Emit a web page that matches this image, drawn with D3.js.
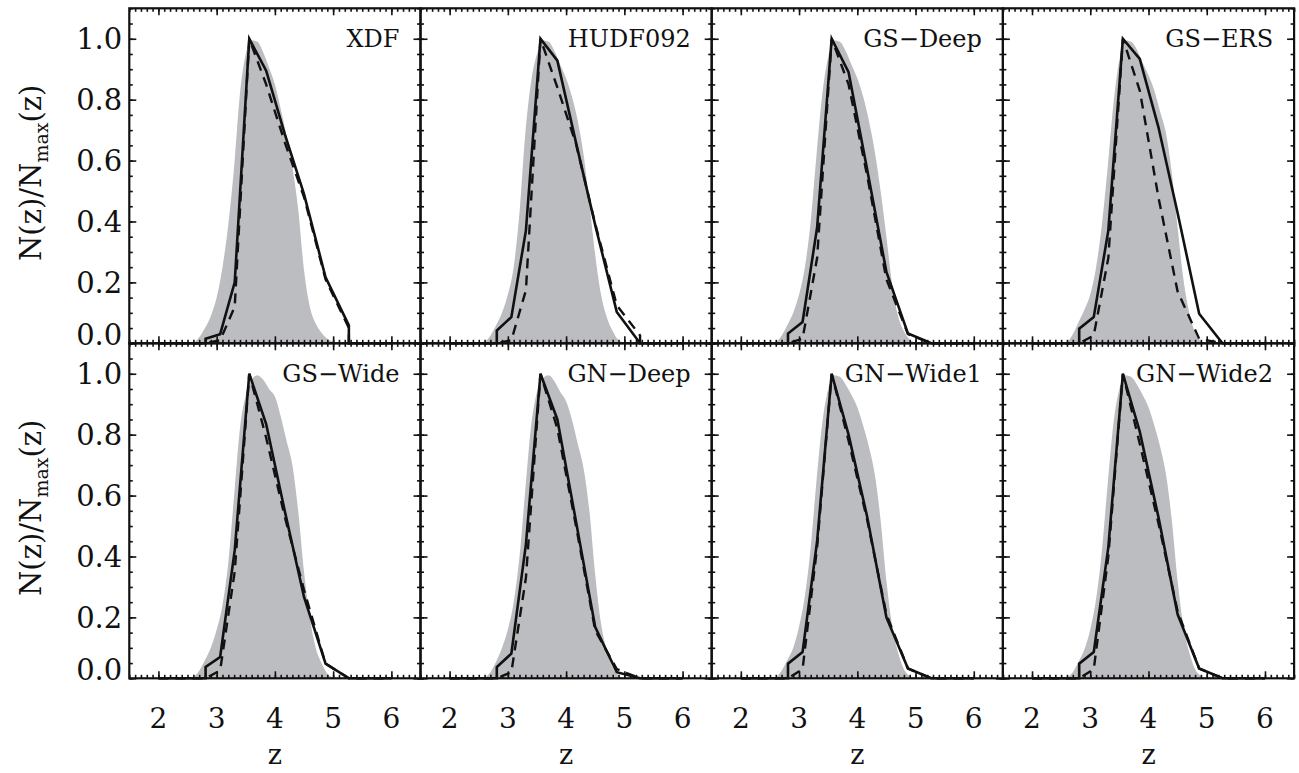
<!DOCTYPE html>
<html>
<head>
<meta charset="utf-8">
<script src="https://cdn.jsdelivr.net/npm/d3@7"></script>
<style>
  html, body { margin: 0; padding: 0; background: #fff; }
  svg text { font-family: "DejaVu Serif", serif; fill: #111; }
</style>
</head>
<body>
<svg id="chart" width="1299" height="773"></svg>
<script>
// Field names, left-to-right, top-to-bottom
const fields = ["XDF", "HUDF092", "GS\u2212Deep", "GS\u2212ERS",
                "GS\u2212Wide", "GN\u2212Deep", "GN\u2212Wide1", "GN\u2212Wide2"];

// Redshift grid of the smooth (grey) distribution
const zModel = [2.5, 2.6, 2.7, 2.8, 2.9, 3.0, 3.1, 3.2, 3.3, 3.4, 3.5, 3.6, 3.7, 3.8,
                3.9, 4.0, 4.1, 4.2, 4.3, 4.4, 4.5, 4.6, 4.7, 4.8, 4.9, 5.0, 5.1];

// Grey distribution per field, N(z)/Nmax on zModel
const modelXDF    = [0, 0.003, 0.02, 0.05, 0.09, 0.15, 0.25, 0.39, 0.58, 0.82, 0.95, 0.995, 0.99, 0.955, 0.905, 0.85, 0.77, 0.68, 0.58, 0.44, 0.24, 0.12, 0.065, 0.035, 0.015, 0.005, 0];
const modelHUDF   = [0, 0.005, 0.025, 0.06, 0.10, 0.16, 0.25, 0.43, 0.69, 0.86, 0.95, 0.995, 0.99, 0.96, 0.915, 0.87, 0.81, 0.73, 0.62, 0.46, 0.29, 0.16, 0.085, 0.04, 0.01, 0.002, 0];
const modelGSDeep = [0, 0.005, 0.025, 0.06, 0.10, 0.16, 0.25, 0.40, 0.62, 0.82, 0.94, 0.995, 0.99, 0.96, 0.915, 0.87, 0.81, 0.73, 0.63, 0.50, 0.35, 0.19, 0.09, 0.04, 0.012, 0.003, 0];
const modelGSERS  = [0, 0.005, 0.03, 0.07, 0.11, 0.16, 0.25, 0.39, 0.58, 0.79, 0.93, 0.995, 0.99, 0.965, 0.92, 0.88, 0.83, 0.76, 0.69, 0.56, 0.38, 0.21, 0.10, 0.035, 0.008, 0, 0];
const modelGSWide = [0, 0.005, 0.025, 0.06, 0.10, 0.16, 0.24, 0.38, 0.60, 0.82, 0.93, 0.98, 0.995, 0.98, 0.95, 0.925, 0.86, 0.78, 0.70, 0.55, 0.35, 0.20, 0.10, 0.05, 0.015, 0.003, 0];
const modelGNDeep = [0, 0.003, 0.02, 0.055, 0.10, 0.16, 0.25, 0.40, 0.62, 0.83, 0.94, 0.985, 0.995, 0.975, 0.94, 0.91, 0.85, 0.77, 0.69, 0.55, 0.34, 0.18, 0.09, 0.035, 0.01, 0, 0];
const modelGNWide1= [0, 0.004, 0.025, 0.06, 0.10, 0.17, 0.27, 0.43, 0.65, 0.84, 0.95, 0.995, 0.99, 0.965, 0.93, 0.89, 0.83, 0.76, 0.67, 0.52, 0.32, 0.17, 0.085, 0.03, 0.008, 0, 0];
const modelGNWide2= [0, 0.003, 0.02, 0.055, 0.095, 0.16, 0.26, 0.42, 0.64, 0.84, 0.95, 0.995, 0.99, 0.965, 0.93, 0.89, 0.83, 0.76, 0.67, 0.52, 0.32, 0.17, 0.085, 0.03, 0.008, 0, 0];

// Redshift nodes of the binned distributions (solid and dashed)
const zBins = [2.0, 2.81, 2.81, 3.06, 3.31, 3.56, 3.85, 4.17, 4.5, 4.87, 5.27, 5.27, 6.0];

// Solid curves per field
const solidXDF    = [0, 0, 0.015, 0.03, 0.20, 1.0, 0.895, 0.687, 0.49, 0.217, 0.059, 0, 0];
const solidHUDF   = [0, 0, 0.042, 0.086, 0.37, 1.0, 0.928, 0.659, 0.388, 0.103, 0, 0, 0];
const solidGSDeep = [0, 0, 0.032, 0.070, 0.38, 1.0, 0.89, 0.57, 0.234, 0.032, 0, 0, 0];
const solidGSERS  = [0, 0, 0.048, 0.086, 0.37, 1.0, 0.934, 0.71, 0.428, 0.097, 0, 0, 0];
const solidGSWide = [0, 0, 0.037, 0.07, 0.42, 1.0, 0.835, 0.549, 0.267, 0.048, 0, 0, 0];
const solidGNDeep = [0, 0, 0.037, 0.081, 0.44, 1.0, 0.85, 0.515, 0.168, 0.02, 0, 0, 0];
const solidGNWide1= [0, 0, 0.048, 0.086, 0.45, 1.0, 0.80, 0.53, 0.20, 0.032, 0, 0, 0];
const solidGNWide2= [0, 0, 0.048, 0.086, 0.43, 1.0, 0.81, 0.53, 0.21, 0.032, 0, 0, 0];

// Dashed curves per field
const dashXDF    = [0, 0, 0, 0.01, 0.12, 1.0, 0.85, 0.66, 0.48, 0.21, 0.05, 0, 0];
const dashHUDF   = [0, 0, 0, 0.01, 0.174, 1.0, 0.84, 0.655, 0.392, 0.125, 0.026, 0, 0];
const dashGSDeep = [0, 0, 0, 0.015, 0.28, 1.0, 0.85, 0.55, 0.21, 0.03, 0, 0, 0];
const dashGSERS  = [0, 0, 0, 0.026, 0.28, 1.0, 0.83, 0.48, 0.17, 0.015, 0, 0, 0];
const dashGSWide = [0, 0, 0, 0.026, 0.35, 1.0, 0.79, 0.53, 0.29, 0.048, 0, 0, 0];
const dashGNDeep = [0, 0, 0, 0.02, 0.33, 1.0, 0.82, 0.50, 0.157, 0.03, 0, 0, 0];
const dashGNWide1= [0, 0, 0, 0.03, 0.43, 1.0, 0.78, 0.52, 0.21, 0.032, 0, 0, 0];
const dashGNWide2= [0, 0, 0, 0.03, 0.40, 1.0, 0.77, 0.51, 0.22, 0.032, 0, 0, 0];

// Axis ticks
const xTicks = [2, 3, 4, 5, 6];
const yTicks = [0.0, 0.2, 0.4, 0.6, 0.8, 1.0];

const models = [modelXDF, modelHUDF, modelGSDeep, modelGSERS, modelGSWide, modelGNDeep, modelGNWide1, modelGNWide2];
const solids = [solidXDF, solidHUDF, solidGSDeep, solidGSERS, solidGSWide, solidGNDeep, solidGNWide1, solidGNWide2];
const dashes = [dashXDF, dashHUDF, dashGSDeep, dashGSERS, dashGSWide, dashGNDeep, dashGNWide1, dashGNWide2];

// ---- layout ----
const svg = d3.select("#chart");
svg.append("rect").attr("width", 1299).attr("height", 773).attr("fill", "#fff");

const gridLeft = 129.3, gridTop = 8.3, panelW = 291.2, panelH = 335;
const nCols = 4, nRows = 2;

const xMinor = d3.range(15, 66).map(d => d / 10);
const yMinor = d3.range(0, 23).map(d => d * 0.05).filter(d => d <= 1.1);

fields.forEach((name, i) => {
  const col = i % nCols, row = Math.floor(i / nCols);
  const x0 = gridLeft + col * panelW, y0 = gridTop + row * panelH;
  const x = d3.scaleLinear().domain([1.5, 6.5]).range([x0, x0 + panelW]);
  const y = d3.scaleLinear().domain([0, 1.1]).range([y0 + panelH, y0]);
  const g = svg.append("g");

  // grey smooth distribution
  const area = d3.area()
    .x((d, k) => x(zModel[k]))
    .y0(y(0))
    .y1(d => y(d))
    .curve(d3.curveMonotoneX);
  g.append("path").datum(models[i])
    .attr("d", area)
    .attr("fill", "#bcbdc1");

  const line = d3.line()
    .x((d, k) => x(zBins[k]))
    .y(d => y(d));

  g.append("path").datum(dashes[i])
    .attr("d", line)
    .attr("fill", "none").attr("stroke", "#111")
    .attr("stroke-width", 2.4)
    .attr("stroke-dasharray", "10,7");

  g.append("path").datum(solids[i])
    .attr("d", line)
    .attr("fill", "none").attr("stroke", "#111")
    .attr("stroke-width", 2.6)
    .attr("stroke-linejoin", "miter");

  // inward ticks on all four sides
  const tickGroup = (axis, tx, ty) => {
    const a = g.append("g").attr("transform", `translate(${tx},${ty})`).call(axis);
    a.select(".domain").remove();
    a.selectAll("line").attr("stroke", "#111").attr("stroke-width", 1.6);
    a.selectAll("text").remove();
    return a;
  };
  const bottomY = y(0), topY = y0, rightX = x0 + panelW;
  tickGroup(d3.axisBottom(x).tickValues(xTicks).tickSize(-7), 0, bottomY);
  tickGroup(d3.axisBottom(x).tickValues(xMinor).tickSize(-3.5), 0, bottomY);
  tickGroup(d3.axisTop(x).tickValues(xTicks).tickSize(-7), 0, topY);
  tickGroup(d3.axisTop(x).tickValues(xMinor).tickSize(-3.5), 0, topY);
  tickGroup(d3.axisLeft(y).tickValues(yTicks).tickSize(-7), x0, 0);
  tickGroup(d3.axisLeft(y).tickValues(yMinor).tickSize(-3.5), x0, 0);
  tickGroup(d3.axisRight(y).tickValues(yTicks).tickSize(-7), rightX, 0);
  tickGroup(d3.axisRight(y).tickValues(yMinor).tickSize(-3.5), rightX, 0);

  // frame
  g.append("rect")
    .attr("x", x0).attr("y", y0).attr("width", panelW).attr("height", panelH)
    .attr("fill", "none").attr("stroke", "#111").attr("stroke-width", 2.2);

  // field name
  g.append("text")
    .attr("x", rightX - 21).attr("y", y(1.0))
    .attr("dy", "0.36em")
    .attr("text-anchor", "end")
    .attr("font-size", 24)
    .text(name);

  // y tick labels on the first column
  if (col === 0) {
    g.selectAll(".ylab").data(yTicks).enter().append("text")
      .attr("x", x0 - 7)
      .attr("y", d => y(d) - (d === 0 ? 9 : 0))
      .attr("dy", "0.36em")
      .attr("text-anchor", "end")
      .attr("font-size", 29)
      .text(d => d3.format(".1f")(d));

    const t = g.append("text")
      .attr("transform", `translate(41,${y0 + panelH / 2 - 3}) rotate(-90)`)
      .attr("text-anchor", "middle")
      .attr("font-size", 29);
    t.append("tspan").text("N(z)/N");
    t.append("tspan").attr("dy", 7).attr("font-size", 19).text("max");
    t.append("tspan").attr("dy", -7).text("(z)");
  }

  // x tick labels and title on the bottom row
  if (row === nRows - 1) {
    g.selectAll(".xlab").data(xTicks).enter().append("text")
      .attr("x", d => x(d))
      .attr("y", bottomY + 40)
      .attr("dy", "0.36em")
      .attr("text-anchor", "middle")
      .attr("font-size", 28)
      .text(d => d);
    g.append("text")
      .attr("x", x(4))
      .attr("y", bottomY + 86)
      .attr("text-anchor", "middle")
      .attr("font-size", 27)
      .text("z");
  }
});
</script>
</body>
</html>
